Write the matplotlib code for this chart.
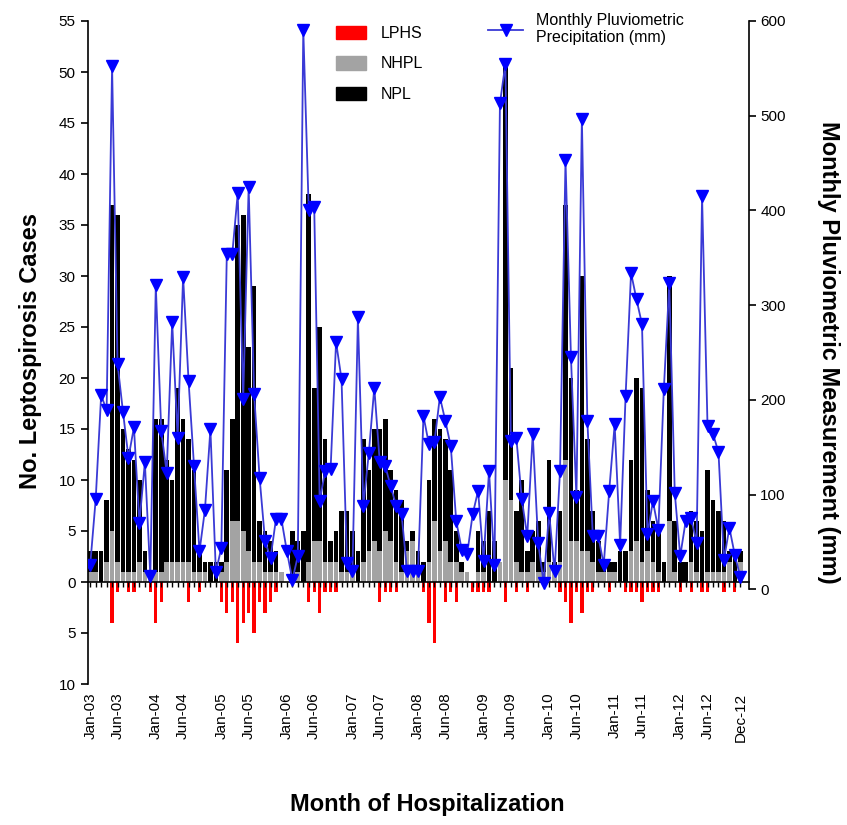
import numpy as np
import matplotlib.pyplot as plt
from matplotlib.patches import Patch
from matplotlib.lines import Line2D

plt.rcParams['font.family'] = ['Liberation Sans', 'DejaVu Sans']

years = list(range(2003, 2013))
month_names = ['Jan', 'Feb', 'Mar', 'Apr', 'May', 'Jun',
               'Jul', 'Aug', 'Sep', 'Oct', 'Nov', 'Dec']
months = ['%s-%02d' % (m, y % 100) for y in years for m in month_names]
tick_labels = [m for m in months if m[:3] in ('Jan', 'Jun')] + ['Dec-12']

# NHPL (grey, bottom of the stack)
nhpl = [1, 1, 0, 2, 5, 2, 1, 1, 1, 2, 1, 1,
        1, 1, 2, 2, 2, 2, 2, 1, 1, 1, 0, 0,
        1, 2, 6, 6, 5, 3, 2, 2, 1, 1, 1, 1,
        0, 0, 1, 0, 2, 4, 4, 2, 2, 2, 1, 1,
        1, 0, 2, 3, 4, 3, 5, 4, 2, 1, 3, 4,
        1, 0, 2, 6, 3, 4, 2, 2, 1, 1, 0, 1,
        1, 0, 0, 2, 10, 8, 2, 1, 1, 2, 1, 1,
        2, 1, 2, 12, 4, 4, 3, 3, 2, 1, 1, 1,
        1, 0, 0, 3, 4, 2, 3, 2, 1, 0, 6, 1,
        0, 0, 2, 1, 0, 1, 1, 1, 1, 2, 0, 2]

# NPL (black, stacked on NHPL)
npl = [2, 2, 3, 6, 32, 34, 14, 12, 11, 8, 2, 0,
       15, 15, 10, 8, 17, 14, 12, 10, 2, 1, 2, 2,
       1, 9, 10, 29, 31, 20, 27, 4, 4, 3, 2, 0,
       0, 5, 3, 5, 36, 15, 21, 12, 2, 3, 6, 6,
       4, 3, 12, 8, 11, 12, 11, 7, 7, 7, 1, 1,
       2, 2, 8, 10, 12, 10, 9, 3, 1, 0, 0, 4,
       3, 7, 4, 0, 41, 13, 5, 9, 2, 3, 5, 1,
       10, 1, 5, 25, 16, 5, 27, 11, 5, 3, 1, 1,
       1, 3, 3, 9, 16, 17, 6, 4, 4, 2, 24, 5,
       2, 2, 5, 5, 5, 10, 7, 6, 5, 1, 3, 1]

# LPHS (red, drawn below zero)
lphs = [0, 0, 0, 0, 4, 1, 0, 1, 1, 0, 0, 1,
        4, 2, 0, 0, 0, 0, 2, 0, 1, 0, 0, 0,
        2, 3, 2, 6, 4, 3, 5, 2, 3, 2, 1, 0,
        0, 0, 0, 0, 2, 1, 3, 1, 1, 1, 0, 0,
        0, 0, 0, 0, 0, 2, 1, 1, 1, 0, 0, 0,
        0, 1, 4, 6, 0, 2, 1, 2, 0, 0, 1, 1,
        1, 1, 0, 0, 2, 0, 1, 0, 1, 0, 0, 0,
        0, 0, 1, 2, 4, 1, 3, 1, 1, 0, 0, 1,
        0, 0, 1, 1, 1, 2, 1, 1, 1, 0, 0, 0,
        1, 0, 1, 0, 1, 1, 0, 0, 1, 0, 1, 0]

# monthly pluviometric precipitation (mm)
rain = [26, 95, 205, 189, 552, 238, 187, 139, 171, 70, 134, 14,
        321, 167, 123, 282, 160, 330, 220, 130, 40, 84, 169, 18,
        44, 354, 354, 418, 201, 425, 206, 118, 51, 33, 74, 74,
        40, 10, 35, 591, 400, 404, 93, 125, 127, 261, 222, 28,
        19, 287, 88, 144, 213, 134, 130, 109, 88, 79, 19, 19,
        19, 183, 153, 155, 203, 178, 151, 72, 42, 37, 79, 104,
        30, 125, 26, 513, 555, 157, 160, 95, 56, 164, 49, 7,
        81, 19, 125, 453, 245, 97, 497, 178, 56, 56, 26, 104,
        174, 47, 204, 334, 306, 280, 58, 93, 63, 211, 323, 102,
        35, 72, 75, 49, 415, 172, 164, 145, 31, 65, 36, 13]

x = np.arange(len(months))
W, H = 847, 825
fig = plt.figure(figsize=(W / 100, H / 100), dpi=100)
ax = fig.add_axes([87.5 / W, 1 - 684 / H, 661 / W, 663 / H])

ax.bar(x, nhpl, width=0.85, color='#a3a3a3', linewidth=0)
ax.bar(x, npl, bottom=nhpl, width=0.85, color='black', linewidth=0)
ax.bar(x, -np.array(lphs), width=0.6, color='#ff0000', linewidth=0)

ax.set_xlim(-0.5, 120.5)
ax.set_ylim(-10, 55)
yt = np.arange(-10, 56, 5)
ax.set_yticks(yt)
ax.set_yticklabels([str(abs(v)) for v in yt], fontsize=11)
ax.spines['top'].set_visible(False)
ax.spines['right'].set_visible(False)
ax.spines['bottom'].set_position(('data', 0))
ax.spines['left'].set_linewidth(1.2)
ax.spines['bottom'].set_linewidth(1.2)

ax.set_xticks(x, minor=True)
ax.set_xticks([months.index(t) for t in tick_labels])
ax.set_xticklabels(tick_labels, rotation=90, fontsize=11)
ax.tick_params(axis='x', which='both', direction='out', length=3.5, width=1)
ax.tick_params(axis='x', which='major', pad=76)
ax.tick_params(axis='y', direction='out', length=5, width=1.2)

ax2 = ax.twinx()
ax2.plot(x, rain, color='#3a3ad6', lw=1.3, marker='v', markersize=8,
         markerfacecolor='#0000ff', markeredgecolor='#0000ff')
ax2.set_ylim(-100, 600)
ax2.set_yticks(np.arange(0, 601, 100))
ax2.tick_params(axis='y', direction='out', length=5, width=1.2, labelsize=11)
ax2.spines['right'].set_bounds(0, 600)
ax2.spines['right'].set_linewidth(1.2)
for s in ('top', 'left', 'bottom'):
    ax2.spines[s].set_visible(False)

fig.text(30 / W, 1 - 351 / H, 'No. Leptospirosis Cases', rotation=90,
         ha='center', va='center', fontsize=17, fontweight='bold')
fig.text(828 / W, 1 - 352 / H, 'Monthly Pluviometric Measurement (mm)',
         rotation=270, ha='center', va='center', fontsize=17, fontweight='bold')
fig.text(427 / W, 1 - 805 / H, 'Month of Hospitalization',
         ha='center', va='center', fontsize=17, fontweight='bold')

bar_handles = [Patch(color='#ff0000'), Patch(color='#a3a3a3'), Patch(color='black')]
leg1 = fig.legend(bar_handles, ['LPHS', 'NHPL', 'NPL'], loc='upper left',
                  bbox_to_anchor=(328 / W, 1 - 18 / H), frameon=False,
                  fontsize=11.5, handlelength=1.9, handleheight=0.9,
                  handletextpad=0.9, labelspacing=0.95, borderpad=0)
line_handle = Line2D([], [], color='#3a3ad6', lw=1.3, marker='v', markersize=8,
                     markerfacecolor='#0000ff', markeredgecolor='#0000ff')
fig.legend([line_handle], ['Monthly Pluviometric\nPrecipitation (mm)'],
           loc='upper left', bbox_to_anchor=(480 / W, 1 - 5 / H),
           frameon=False, fontsize=11.5, handlelength=2.2,
           handletextpad=0.8, borderpad=0)

fig.savefig('out.png', dpi=100)
